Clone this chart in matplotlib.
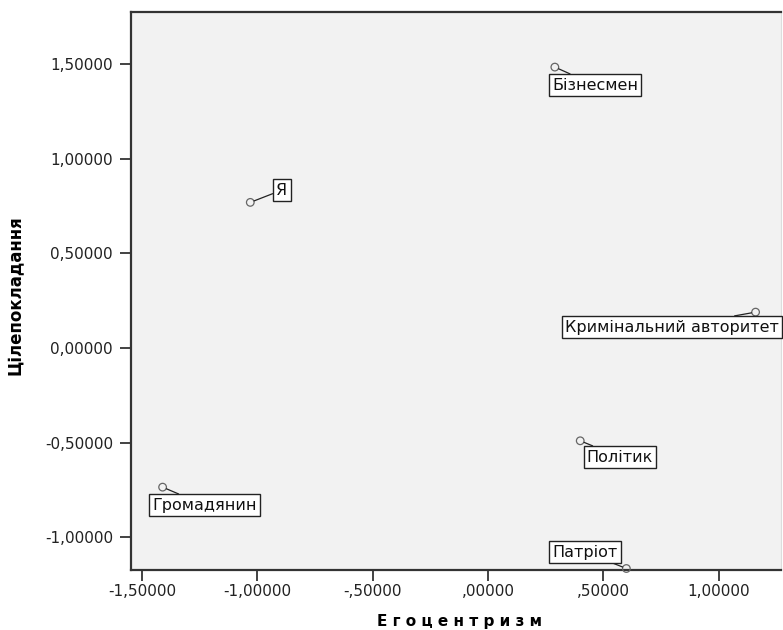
import matplotlib
matplotlib.use("Agg")
import matplotlib.pyplot as plt

# Roles on the two factor axes
roles = ["Бізнесмен", "Я", "Кримінальний авторитет", "Політик", "Громадянин", "Патріот"]
egocentrism = [0.29, -1.03, 1.16, 0.40, -1.41, 0.60]
goal_setting = [1.485, 0.77, 0.19, -0.49, -0.735, -1.165]

# label anchor (data coords) and alignment for each role
label_x = [0.464, -0.893, 0.334, 0.572, -1.227, 0.42]
label_y = [1.39, 0.835, 0.111, -0.576, -0.83, -1.078]
label_ha = ["center", "center", "left", "center", "center", "center"]

x_ticks = [-1.5, -1.0, -0.5, 0.0, 0.5, 1.0]
x_tick_labels = ["-1,50000", "-1,00000", "-,50000", ",00000", ",50000", "1,00000"]
y_ticks = [1.5, 1.0, 0.5, 0.0, -0.5, -1.0]
y_tick_labels = ["1,50000", "1,00000", "0,50000", "0,00000", "-0,50000", "-1,00000"]

plt.rcParams["font.family"] = ["DejaVu Sans"]

fig = plt.figure(figsize=(7.83, 6.30), dpi=100)
ax = fig.add_axes([0.1673, 0.0952, 0.8301, 0.8857])
ax.set_facecolor("#f2f2f2")

ax.scatter(egocentrism, goal_setting, s=30, facecolors="none",
           edgecolors="#666666", linewidths=0.9, zorder=3, clip_on=False)

for name, px, py, lx, ly, ha in zip(roles, egocentrism, goal_setting,
                                    label_x, label_y, label_ha):
    ax.annotate(name, xy=(px, py), xytext=(lx, ly), ha=ha, va="center",
                fontsize=11.5, color="#111111", zorder=4, annotation_clip=False,
                bbox=dict(boxstyle="square,pad=0.2", fc="white", ec="#222222", lw=1.0),
                arrowprops=dict(arrowstyle="-", color="#222222", lw=0.9,
                                shrinkA=0, shrinkB=3))

ax.set_xlim(-1.547, 1.27)
ax.set_ylim(-1.173, 1.776)
ax.set_xticks(x_ticks)
ax.set_xticklabels(x_tick_labels)
ax.set_yticks(y_ticks)
ax.set_yticklabels(y_tick_labels)
ax.tick_params(labelsize=11, length=8, width=1.2, colors="#222222")
ax.tick_params(axis="x", pad=2)
ax.tick_params(axis="y", pad=5)

for side in ["top", "left", "bottom"]:
    ax.spines[side].set_color("#333333")
    ax.spines[side].set_linewidth(1.6)
ax.spines["right"].set_color("#dddddd")
ax.spines["right"].set_linewidth(0.8)

ax.set_xlabel("Е г о ц е н т р и з м", fontsize=11, fontweight="bold")
ax.xaxis.set_label_coords(0.505, -0.079)
ax.set_ylabel("Цілепокладання", fontsize=12, fontweight="bold")
ax.yaxis.set_label_coords(-0.163, 0.493)

fig.savefig("out.png", dpi=100)
